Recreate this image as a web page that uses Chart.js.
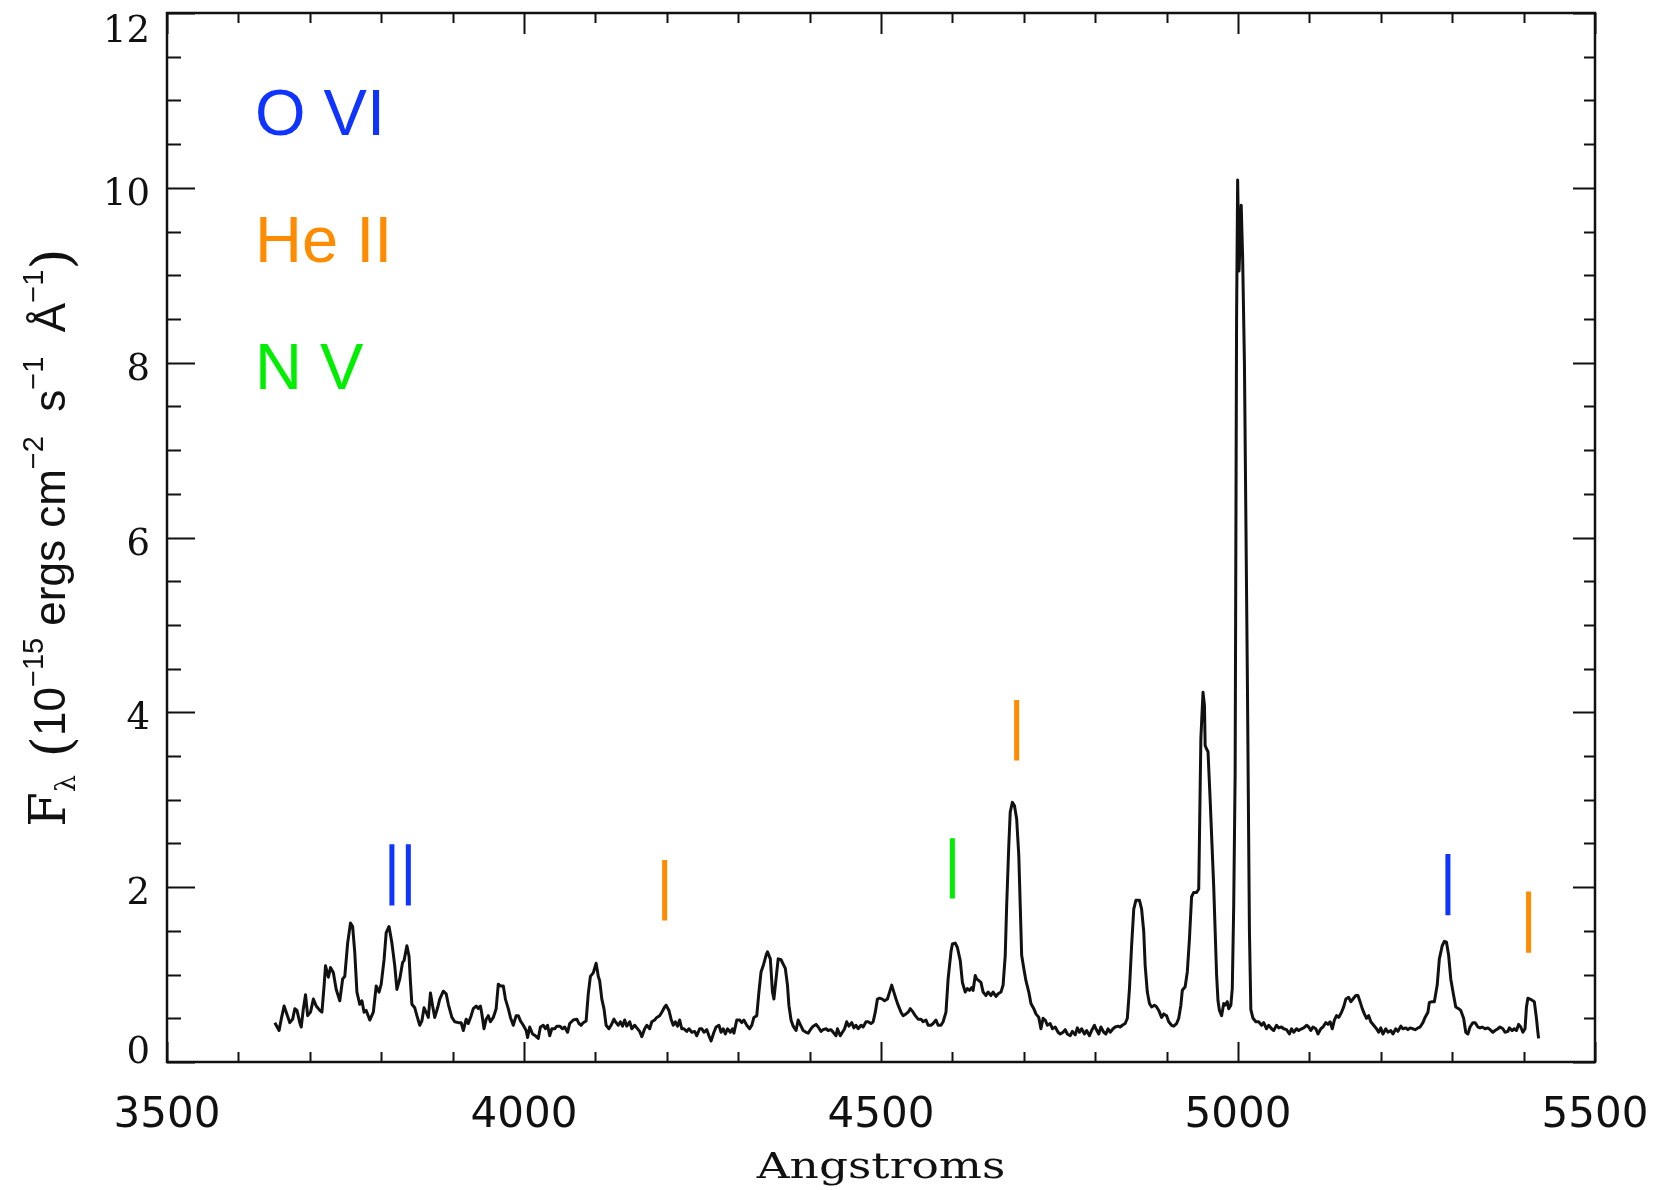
<!DOCTYPE html>
<html>
<head>
<meta charset="utf-8">
<title>Spectrum</title>
<script src="https://cdn.jsdelivr.net/npm/chart.js@4.4.1/dist/chart.umd.min.js"></script>
<style>
  html, body { margin: 0; padding: 0; background: #fff; }
  #wrap { width: 1659px; height: 1190px; }
</style>
</head>
<body>
<div id="wrap"><canvas id="spectrum" width="1659" height="1190"></canvas></div>
<script>
// Optical spectrum, flux vs wavelength, with O VI / He II / N V line markers

const waveA = [
  3651, 3657, 3660, 3664, 3667, 3672, 3676, 3679, 3682, 3686, 3688, 3691, 3694, 3697, 3701, 3705,
  3709, 3714, 3717, 3720, 3722, 3726, 3729, 3733, 3737, 3742, 3746, 3749, 3753, 3757, 3760, 3763,
  3766, 3770, 3773, 3776, 3779, 3784, 3789, 3793, 3797, 3800, 3804, 3807, 3811, 3815, 3819, 3822,
  3826, 3830, 3832, 3836, 3839, 3841, 3843, 3847, 3850, 3854, 3857, 3860, 3864, 3866, 3869, 3872,
  3875, 3879, 3882, 3887, 3891, 3894, 3899, 3903, 3908, 3912, 3915, 3919, 3922, 3926, 3929, 3933,
  3936, 3939, 3941, 3944, 3947, 3950, 3953, 3957, 3961, 3964, 3967, 3971, 3974, 3978, 3981, 3985,
  3989, 3992, 3995, 3999, 4003, 4005, 4008, 4012, 4016, 4020, 4023, 4027, 4030, 4033, 4036, 4039,
  4043, 4046, 4050, 4054, 4057, 4061, 4064, 4069, 4074, 4077, 4080, 4083, 4087, 4090, 4093, 4097,
  4101, 4104, 4106, 4109, 4112, 4115, 4119, 4122, 4126, 4129, 4132, 4135, 4138, 4141, 4144, 4148,
  4151, 4155, 4158, 4162, 4165, 4169, 4172, 4176, 4179, 4183, 4186, 4190, 4193, 4197, 4199, 4203,
  4206, 4209, 4212, 4215, 4218, 4221, 4224, 4228, 4231, 4235, 4239, 4242, 4246, 4249, 4252, 4256,
  4259, 4262, 4266, 4269, 4273, 4276, 4279, 4282, 4285, 4289, 4292, 4294, 4298, 4302, 4305, 4308,
  4312, 4316, 4319, 4322, 4326, 4329, 4332, 4335, 4339, 4341, 4345, 4348, 4350, 4353, 4356, 4360,
  4363, 4366, 4369, 4371, 4374, 4377, 4381, 4384, 4388, 4391, 4395, 4398, 4402, 4405, 4409, 4412,
  4416, 4419, 4423, 4426, 4430, 4433, 4437, 4439, 4443, 4446, 4449, 4452, 4455, 4459, 4462, 4465,
  4468, 4472, 4475, 4479, 4482, 4486, 4489, 4492, 4495, 4498, 4502, 4505, 4509, 4512, 4515, 4518,
  4521, 4524, 4528, 4531, 4535, 4538, 4541, 4545, 4548, 4552, 4556, 4559, 4563, 4566, 4570, 4573,
  4577, 4580, 4584, 4587, 4591, 4594, 4598, 4600, 4604, 4607, 4611, 4614, 4618, 4621, 4624, 4627,
  4629, 4632, 4634, 4637, 4640, 4643, 4647, 4650, 4654, 4657, 4661, 4664, 4668, 4671, 4674, 4676,
  4679, 4681, 4684, 4687, 4690, 4693, 4695, 4697, 4700, 4703, 4707, 4710, 4714, 4717, 4721, 4724,
  4727, 4730, 4733, 4737, 4740, 4744, 4748, 4751, 4755, 4758, 4761, 4765, 4768, 4772, 4775, 4778,
  4781, 4785, 4788, 4792, 4795, 4799, 4801, 4805, 4808, 4812, 4815, 4818, 4821, 4825, 4828, 4832,
  4835, 4838, 4842, 4845, 4848, 4851, 4854, 4857, 4862, 4865, 4868, 4870, 4873, 4876, 4879, 4883,
  4886, 4889, 4893, 4896, 4900, 4903, 4907, 4910, 4914, 4917, 4920, 4922, 4926, 4929, 4932, 4935,
  4938, 4942, 4945, 4946, 4948, 4951, 4953, 4954, 4956, 4958, 4961, 4963, 4966, 4968, 4970, 4972,
  4974, 4977, 4980, 4982, 4985, 4987, 4990, 4992, 4994, 4996, 4998, 4999.5, 5001.5, 5004.5, 5006.5, 5009,
  5013, 5016, 5018, 5021, 5025, 5029, 5033, 5036, 5040, 5043, 5047, 5050, 5054, 5057, 5061, 5064,
  5068, 5072, 5075, 5078, 5082, 5085, 5089, 5092, 5096, 5099, 5102, 5105, 5109, 5112, 5116, 5119,
  5123, 5126, 5129, 5132, 5135, 5138, 5141, 5145, 5148, 5151, 5155, 5158, 5161, 5165, 5168, 5171,
  5174, 5177, 5180, 5183, 5186, 5190, 5194, 5197, 5200, 5203, 5207, 5210, 5214, 5217, 5221, 5224,
  5228, 5231, 5235, 5238, 5241, 5245, 5248, 5252, 5255, 5259, 5262, 5266, 5268, 5272, 5275, 5279,
  5282, 5286, 5289, 5292, 5295, 5298, 5302, 5305, 5309, 5312, 5316, 5319, 5322, 5325, 5329, 5332,
  5336, 5339, 5342, 5346, 5350, 5353, 5357, 5360, 5364, 5367, 5371, 5374, 5378, 5380, 5384, 5387,
  5390, 5393, 5396, 5399, 5402, 5404, 5406, 5409, 5413, 5415, 5418, 5420, 5421,
];

const fluxF = [
  0.45, 0.36, 0.49, 0.64, 0.57, 0.45, 0.49, 0.61, 0.59, 0.45, 0.40, 0.61, 0.77, 0.53, 0.57, 0.72,
  0.64, 0.59, 0.57, 0.87, 1.10, 0.97, 1.08, 1.02, 0.83, 0.70, 0.95, 0.98, 1.36, 1.59, 1.55, 1.25,
  0.80, 0.66, 0.70, 0.57, 0.59, 0.48, 0.57, 0.87, 0.80, 0.89, 1.17, 1.48, 1.55, 1.36, 1.10, 0.83,
  0.95, 1.14, 1.16, 1.33, 1.21, 0.91, 0.66, 0.62, 0.53, 0.42, 0.47, 0.62, 0.55, 0.51, 0.79, 0.64,
  0.51, 0.62, 0.72, 0.81, 0.78, 0.66, 0.51, 0.46, 0.45, 0.45, 0.36, 0.49, 0.44, 0.53, 0.61, 0.64,
  0.61, 0.64, 0.55, 0.38, 0.49, 0.53, 0.46, 0.51, 0.61, 0.89, 0.87, 0.87, 0.72, 0.61, 0.51, 0.42,
  0.53, 0.53, 0.47, 0.42, 0.36, 0.28, 0.40, 0.32, 0.30, 0.27, 0.40, 0.42, 0.38, 0.42, 0.30, 0.38,
  0.38, 0.41, 0.41, 0.38, 0.40, 0.34, 0.44, 0.48, 0.49, 0.44, 0.42, 0.45, 0.47, 0.78, 0.98, 1.02,
  1.13, 0.98, 0.93, 0.72, 0.61, 0.42, 0.38, 0.42, 0.49, 0.45, 0.42, 0.46, 0.41, 0.48, 0.41, 0.46,
  0.38, 0.42, 0.39, 0.35, 0.29, 0.38, 0.42, 0.38, 0.46, 0.48, 0.51, 0.53, 0.57, 0.63, 0.65, 0.59,
  0.49, 0.42, 0.46, 0.41, 0.48, 0.38, 0.38, 0.35, 0.38, 0.34, 0.35, 0.30, 0.38, 0.38, 0.34, 0.37,
  0.30, 0.24, 0.34, 0.40, 0.42, 0.34, 0.38, 0.32, 0.38, 0.34, 0.38, 0.33, 0.48, 0.48, 0.45, 0.48,
  0.42, 0.38, 0.42, 0.51, 0.53, 0.80, 1.03, 1.10, 1.22, 1.26, 1.18, 0.80, 0.72, 0.95, 1.18, 1.17,
  1.12, 1.07, 0.88, 0.65, 0.48, 0.41, 0.36, 0.48, 0.41, 0.36, 0.34, 0.33, 0.38, 0.41, 0.43, 0.40,
  0.35, 0.37, 0.38, 0.36, 0.37, 0.34, 0.30, 0.38, 0.30, 0.34, 0.38, 0.46, 0.41, 0.45, 0.39, 0.42,
  0.38, 0.42, 0.40, 0.46, 0.46, 0.44, 0.46, 0.57, 0.72, 0.73, 0.72, 0.70, 0.72, 0.80, 0.88, 0.80,
  0.72, 0.65, 0.57, 0.53, 0.55, 0.57, 0.61, 0.57, 0.53, 0.49, 0.49, 0.46, 0.48, 0.42, 0.42, 0.44,
  0.48, 0.42, 0.42, 0.46, 0.57, 0.95, 1.26, 1.35, 1.36, 1.31, 1.16, 0.91, 0.80, 0.84, 0.82, 0.85,
  0.82, 0.99, 0.95, 0.93, 0.91, 0.80, 0.76, 0.80, 0.76, 0.80, 0.75, 0.78, 0.80, 0.88, 1.22, 1.79,
  2.48, 2.86, 2.97, 2.93, 2.78, 2.36, 1.79, 1.22, 1.07, 0.93, 0.80, 0.67, 0.61, 0.55, 0.51, 0.38,
  0.50, 0.48, 0.42, 0.44, 0.38, 0.40, 0.34, 0.32, 0.34, 0.37, 0.32, 0.30, 0.35, 0.31, 0.39, 0.34,
  0.38, 0.32, 0.36, 0.30, 0.36, 0.42, 0.38, 0.32, 0.40, 0.34, 0.32, 0.38, 0.34, 0.38, 0.40, 0.41,
  0.40, 0.42, 0.44, 0.50, 0.84, 1.33, 1.75, 1.85, 1.85, 1.75, 1.49, 1.10, 0.80, 0.67, 0.63, 0.65,
  0.63, 0.59, 0.51, 0.55, 0.53, 0.46, 0.42, 0.41, 0.44, 0.50, 0.65, 0.82, 0.86, 1.03, 1.41, 1.89,
  1.94, 1.94, 1.98, 2.55, 3.70, 4.23, 4.08, 3.62, 3.58, 3.55, 3.00, 2.60, 2.00, 1.50, 1.00, 0.70,
  0.59, 0.53, 0.67, 0.65, 0.69, 0.61, 0.65, 0.84, 1.79, 3.30, 8.50, 10.09, 9.05, 9.80, 9.20, 8.00,
  4.50, 1.50, 0.60, 0.50, 0.46, 0.46, 0.42, 0.45, 0.38, 0.42, 0.38, 0.36, 0.42, 0.39, 0.40, 0.38,
  0.37, 0.32, 0.38, 0.34, 0.38, 0.36, 0.38, 0.39, 0.42, 0.40, 0.36, 0.40, 0.38, 0.32, 0.38, 0.40,
  0.45, 0.43, 0.46, 0.38, 0.48, 0.53, 0.51, 0.57, 0.63, 0.72, 0.74, 0.69, 0.72, 0.76, 0.76, 0.69,
  0.61, 0.55, 0.50, 0.53, 0.46, 0.42, 0.38, 0.34, 0.39, 0.32, 0.38, 0.34, 0.36, 0.32, 0.38, 0.35,
  0.41, 0.38, 0.39, 0.37, 0.39, 0.38, 0.37, 0.39, 0.40, 0.45, 0.51, 0.57, 0.68, 0.69, 0.69, 0.88,
  1.18, 1.33, 1.38, 1.37, 1.22, 0.95, 0.76, 0.63, 0.61, 0.59, 0.50, 0.34, 0.32, 0.40, 0.45, 0.45,
  0.40, 0.39, 0.40, 0.38, 0.39, 0.37, 0.34, 0.36, 0.38, 0.40, 0.38, 0.34, 0.35, 0.39, 0.36, 0.38,
  0.36, 0.43, 0.40, 0.34, 0.38, 0.63, 0.73, 0.72, 0.70, 0.69, 0.50, 0.34, 0.27,
];

// line identification marks: wavelength, bottom and top of each bar
const oviWave = [3815, 3838, 5294];
const oviLow = [1.79, 1.79, 1.68];
const oviHigh = [2.49, 2.49, 2.38];
const heiiWave = [4197, 4690, 5407];
const heiiLow = [1.62, 3.45, 1.25];
const heiiHigh = [2.31, 4.14, 1.95];
const nvWave = [4600];
const nvLow = [1.87];
const nvHigh = [2.56];

const ionNames = ['O VI', 'He II', 'N V'];
const ionColors = ['#1034ff', '#ff8c00', '#00ee00'];

const xTicks = [3500, 4000, 4500, 5000, 5500];
const yTicks = [0, 2, 4, 6, 8, 10, 12];
const xMinorStep = 100;
const yMinorStep = 0.5;

function markerSegments(waves, lows, highs) {
  const pts = [];
  waves.forEach((w, i) => {
    if (i) pts.push({ x: w, y: null });
    pts.push({ x: w, y: lows[i] }, { x: w, y: highs[i] });
  });
  return pts;
}

function markerSet(waves, lows, highs, color) {
  return {
    data: markerSegments(waves, lows, highs),
    borderColor: color,
    borderWidth: 5,
    borderCapStyle: 'butt',
    pointRadius: 0,
    spanGaps: false,
  };
}

// IDL-style box: ticks on all four sides, labels drawn by hand
const frame = {
  id: 'frame',
  afterDraw(chart) {
    const { ctx, chartArea: a, scales: { x, y } } = chart;
    const ink = '#111';
    ctx.save();

    ctx.strokeStyle = ink;
    ctx.lineWidth = 2.5;
    ctx.strokeRect(a.left, a.top, a.right - a.left, a.bottom - a.top);

    ctx.lineWidth = 2;
    ctx.beginPath();
    for (let v = x.min; v <= x.max + 0.01; v += xMinorStep) {
      const px = Math.round(x.getPixelForValue(v)) + 0.5;
      const major = xTicks.includes(Math.round(v));
      ctx.moveTo(px, a.bottom);
      ctx.lineTo(px, a.bottom - (major ? 20 : 10));
      ctx.moveTo(px, a.top);
      ctx.lineTo(px, a.top + (major ? 21 : 10));
    }
    for (let v = y.min; v <= y.max + 0.01; v += yMinorStep) {
      const py = Math.round(y.getPixelForValue(v)) + 0.5;
      const major = yTicks.includes(v);
      ctx.moveTo(a.left, py);
      ctx.lineTo(a.left + (major ? 28 : 14), py);
      ctx.moveTo(a.right, py);
      ctx.lineTo(a.right - (major ? 22 : 11), py);
    }
    ctx.stroke();

    ctx.fillStyle = ink;
    ctx.font = '42px "DejaVu Sans"';
    ctx.textAlign = 'center';
    ctx.textBaseline = 'alphabetic';
    xTicks.forEach((v) => {
      ctx.fillText(String(v), x.getPixelForValue(v), 1127);
    });

    ctx.font = '37px "DejaVu Serif"';
    ctx.textAlign = 'right';
    yTicks.forEach((v, i) => {
      let shift = 17;
      if (i === 0) shift = 1;
      if (i === yTicks.length - 1) shift = 29;
      ctx.fillText(String(v), 150, y.getPixelForValue(v) + shift);
    });

    // x title, widened serif
    ctx.save();
    ctx.translate((a.left + a.right) / 2, 1178);
    ctx.scale(1.3, 1);
    ctx.textAlign = 'center';
    ctx.font = '35px "DejaVu Serif"';
    ctx.fillText('Angstroms', 0, 0);
    ctx.restore();

    // y title with sub/superscripts
    const sans = '"Liberation Sans", Arial, sans-serif';
    const serif = '"DejaVu Serif", serif';
    const parts = [
      { t: 'F', font: `50px ${serif}`, dy: 0 },
      { t: 'λ', font: `27px ${serif}`, dy: 10 },
      { t: ' (', font: `55px ${serif}`, dy: 5 },
      { t: '10', font: `44px ${sans}`, dy: 0 },
      { t: '−15', font: `29px ${sans}`, dy: -22 },
      { t: ' ergs cm', font: `44px ${sans}`, dy: 0 },
      { t: '−2', font: `29px ${sans}`, dy: -22 },
      { t: '  s', font: `44px ${sans}`, dy: 0 },
      { t: '−1', font: `29px ${sans}`, dy: -22 },
      { t: '  Å', font: `44px ${sans}`, dy: 0 },
      { t: '−1', font: `29px ${sans}`, dy: -22 },
      { t: ')', font: `55px ${serif}`, dy: 5 },
    ];
    let total = 0;
    parts.forEach((p) => {
      ctx.font = p.font;
      p.w = ctx.measureText(p.t).width;
      total += p.w;
    });
    ctx.save();
    ctx.translate(65, (a.top + a.bottom) / 2);
    ctx.rotate(-Math.PI / 2);
    ctx.textAlign = 'left';
    let cx = -total / 2;
    parts.forEach((p) => {
      ctx.font = p.font;
      ctx.fillText(p.t, cx, p.dy);
      cx += p.w;
    });
    ctx.restore();

    // ion names, top left
    ctx.font = '65px "Liberation Sans", Arial, sans-serif';
    ctx.textAlign = 'left';
    const baselines = [135, 262, 389];
    ionNames.forEach((name, i) => {
      ctx.fillStyle = ionColors[i];
      ctx.fillText(name, 255, baselines[i]);
    });

    ctx.restore();
  },
};

const spectrum = waveA.map((w, i) => ({ x: w, y: fluxF[i] }));

new Chart(document.getElementById('spectrum'), {
  type: 'line',
  data: {
    datasets: [
      {
        data: spectrum,
        borderColor: '#111',
        borderWidth: 3,
        borderJoinStyle: 'round',
        pointRadius: 0,
        tension: 0,
      },
      markerSet(oviWave, oviLow, oviHigh, ionColors[0]),
      markerSet(heiiWave, heiiLow, heiiHigh, ionColors[1]),
      markerSet(nvWave, nvLow, nvHigh, ionColors[2]),
    ],
  },
  options: {
    responsive: false,
    animation: false,
    layout: { padding: { left: 167, right: 64, top: 13, bottom: 128 } },
    plugins: {
      legend: { display: false },
      tooltip: { enabled: false },
    },
    scales: {
      x: { type: 'linear', min: 3500, max: 5500, display: false },
      y: { type: 'linear', min: 0, max: 12, display: false },
    },
  },
  plugins: [frame],
});
</script>
</body>
</html>
